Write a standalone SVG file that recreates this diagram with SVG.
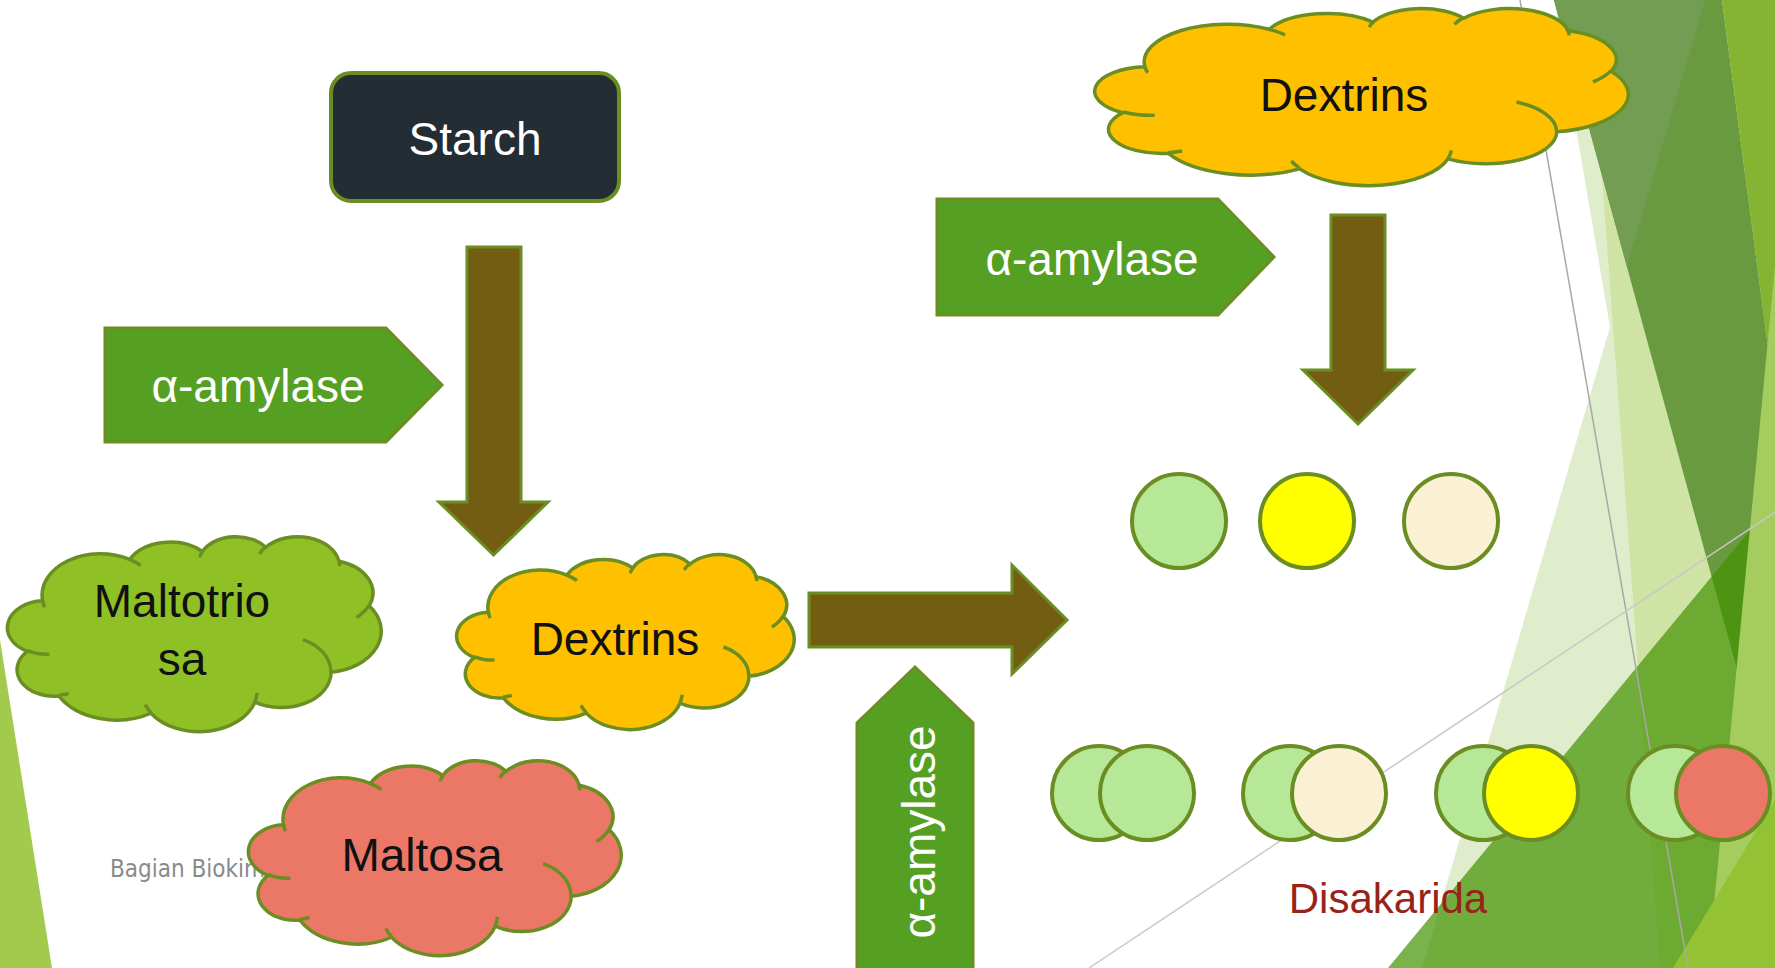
<svg xmlns="http://www.w3.org/2000/svg" xmlns:xlink="http://www.w3.org/1999/xlink" width="1775" height="968" viewBox="0 0 1775 968">
<style>
.lbl{font-family:"Liberation Sans",Arial,sans-serif;font-size:46px;text-anchor:middle}
.dark{fill:#111111}
.white{fill:#ffffff}
.cl{stroke:#6b8e23;stroke-width:3.5}
.ar{fill:#735d12;stroke:#6b8e23;stroke-width:3}
.enz{fill:#55a023;stroke:#6b8e23;stroke-width:3}
.mono{stroke:#6b8e23;stroke-width:4}
.lg{fill:#b7e898}.ye{fill:#ffff00}.cr{fill:#faf0d4}.sa{fill:#eb7766}
</style>
<defs>
<path id="cloudO" vector-effect="non-scaling-stroke" d="M3900,14370 A6753,9190 0 0 1 14005,5201 A5333,7267 0 0 1 22460,3436 A4365,5945 0 0 1 29837,2486 A4857,6595 0 0 1 38322,5580 A5333,7273 0 0 1 41823,15464 A6775,9220 0 0 1 37408,30206 A5785,7867 0 0 1 28558,36815 A6752,9215 0 0 1 16484,39268 A7720,10543 0 0 1 5805,35475 A4360,5918 0 0 1 2115,25551 A4345,5945 0 0 1 3900,14370 Z"/>
<path id="cloudT" fill="none" vector-effect="non-scaling-stroke" d="M4693,26177 A4345,5945 0 0 1 2159,25379 M6928,34899 A4360,5918 0 0 1 5819,35280 M16478,39090 A6752,9215 0 0 1 15809,37348 M28827,34751 A6752,9215 0 0 1 28560,36661 M34129,22954 A5785,7867 0 0 1 37380,30089 M41798,15354 A5333,7273 0 0 1 40349,18030 M38324,5426 A4857,6595 0 0 1 38400,6691 M29078,3952 A4857,6595 0 0 1 29820,2340 M22141,4720 A4365,5945 0 0 1 22500,3332 M14000,5192 A6753,9190 0 0 1 15299,6540 M4127,15789 A6753,9190 0 0 1 3901,14371"/>
</defs>
<rect width="1775" height="968" fill="#ffffff"/>
<g id="background">
<polygon points="1554,0 1610,327 1422,968 1775,968 1775,0" fill="#e0edcd"/>
<polygon points="1602,176 1660,968 1775,968 1775,176" fill="#cfe3a4"/>
<polygon points="1554,0 1722,0 1775,400 1738,673" fill="#699a3f"/>
<polygon points="1554,0 1705,0 1627,267" fill="#729d52"/>
<polygon points="1722,0 1775,0 1775,400" fill="#84b432"/>
<polygon points="1388,968 1775,500 1775,968" fill="#419200" fill-opacity="0.7"/>
<polygon points="1775,266 1708,968 1775,968" fill="#a5cc5f"/>
<polygon points="1673,968 1775,800 1775,968" fill="#93c234"/>
<line x1="1520" y1="0" x2="1688" y2="968" stroke="#a8a8a8" stroke-width="1.5"/>
<line x1="1089" y1="968" x2="1775" y2="512" stroke="#c8c8c8" stroke-width="1.5"/>
<polygon points="0,640 52,968 0,968" fill="#a2cb4e"/>
<text x="110" y="877" font-family="'DejaVu Sans Condensed','DejaVu Sans',sans-serif" font-size="24" fill="#8a8a8a">Bagian Biokim</text>
</g>
<g id="connectors">
<polygon class="ar" points="467,247 521,247 521,502 548,502 493.5,555 439,502 467,502"/>
<polygon class="ar" points="1331,215 1385,215 1385,370 1413,370 1358,424 1303,370 1331,370"/>
<polygon class="ar" points="809,593 1012,593 1012,565 1067,620 1012,674 1012,647 809,647"/>
</g>
<g id="starch">
<rect x="331" y="73" width="288" height="128" rx="20" fill="#232d33" stroke="#6b8e23" stroke-width="4"/>
<text class="lbl white" x="475" y="155" font-size="47">Starch</text>
</g>
<g id="enzyme-left">
<polygon class="enz" points="105,328 386,328 442,385 386,442 105,442"/>
<text class="lbl white" x="258" y="402">α-amylase</text>
</g>
<g id="enzyme-top">
<polygon class="enz" points="937,199 1218,199 1274,257 1218,315 937,315"/>
<text class="lbl white" x="1092" y="275">α-amylase</text>
</g>
<g id="enzyme-bottom">
<polygon class="enz" points="857,975 857,723 915,667 973,723 973,975"/>
<text class="lbl white" transform="translate(935,832) rotate(-90)">α-amylase</text>
</g>
<g id="dextrins-top">
<g transform="translate(1097,8) scale(0.012292,0.004097)">
<use xlink:href="#cloudO" class="cl" fill="#ffc000"/>
<use xlink:href="#cloudT" class="cl"/>
</g>
<text class="lbl dark" x="1344" y="111">Dextrins</text>
</g>
<g id="dextrins-mid">
<g transform="translate(458,554) scale(0.007778,0.004051)">
<use xlink:href="#cloudO" class="cl" fill="#ffc000"/>
<use xlink:href="#cloudT" class="cl"/>
</g>
<text class="lbl dark" x="615" y="655">Dextrins</text>
</g>
<g id="maltotriosa">
<g transform="translate(9,536) scale(0.008611,0.004514)">
<use xlink:href="#cloudO" class="cl" fill="#8fc126"/>
<use xlink:href="#cloudT" class="cl"/>
</g>
<text class="lbl dark" x="182" y="617">Maltotrio</text>
<text class="lbl dark" x="182" y="675">sa</text>
</g>
<g id="maltosa">
<g transform="translate(250,760) scale(0.008588,0.004514)">
<use xlink:href="#cloudO" class="cl" fill="#eb7766"/>
<use xlink:href="#cloudT" class="cl"/>
</g>
<text class="lbl dark" x="422" y="871">Maltosa</text>
</g>
<g id="monosaccharides">
<circle class="mono lg" cx="1179" cy="521" r="47"/>
<circle class="mono ye" cx="1307" cy="521" r="47"/>
<circle class="mono cr" cx="1451" cy="521" r="47"/>
</g>
<g id="disaccharides">
<circle class="mono lg" cx="1099" cy="793" r="47"/>
<circle class="mono lg" cx="1147" cy="793" r="47"/>
<circle class="mono lg" cx="1290" cy="793" r="47"/>
<circle class="mono cr" cx="1339" cy="793" r="47"/>
<circle class="mono lg" cx="1483" cy="793" r="47"/>
<circle class="mono ye" cx="1531" cy="793" r="47"/>
<circle class="mono lg" cx="1675" cy="793" r="47"/>
<circle class="mono sa" cx="1723" cy="793" r="47"/>
<text x="1388" y="913" font-family="'Liberation Sans',Arial,sans-serif" font-size="42" text-anchor="middle" fill="#98231a">Disakarida</text>
</g>
</svg>
